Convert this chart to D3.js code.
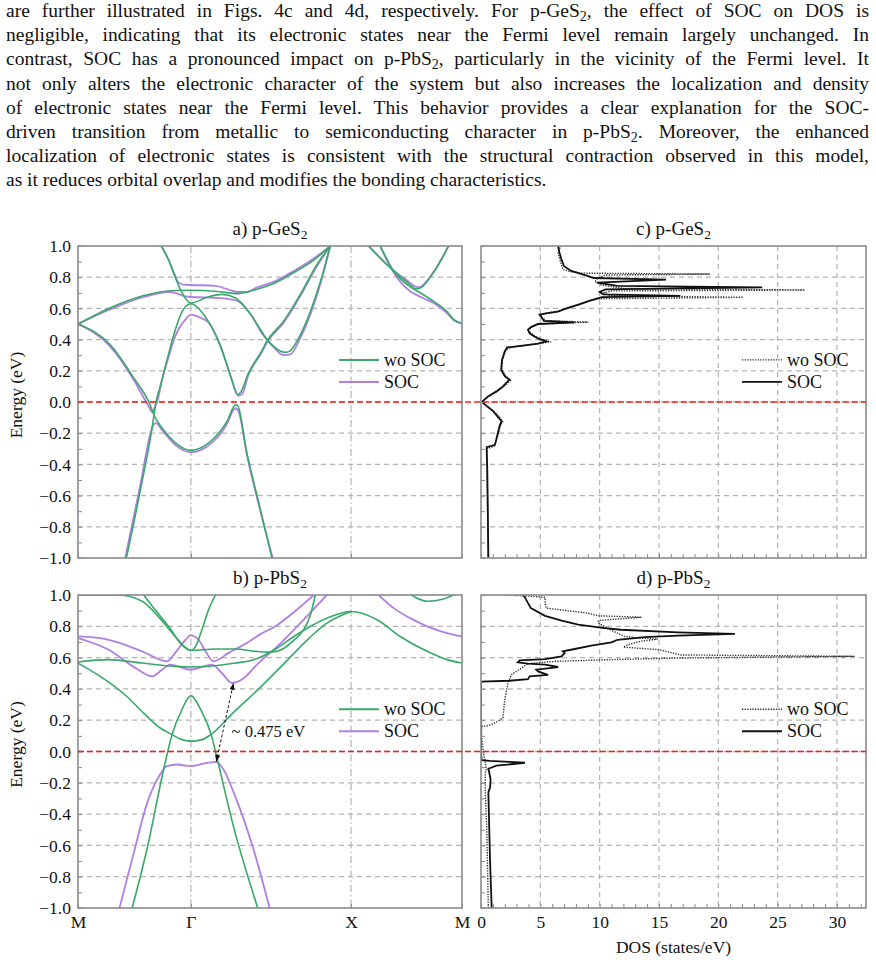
<!DOCTYPE html>
<html>
<head>
<meta charset="utf-8">
<script src="https://cdn.jsdelivr.net/npm/d3@7"></script>
<style>
  body { margin: 0; background: #fff; }
  svg text { font-family: "Liberation Serif", "Times New Roman", serif; fill: #111; }
</style>
</head>
<body>
<svg id="fig" width="876" height="962"></svg>
<script>
// ---- text above the figure (_2 marks a subscript) ----
var paragraphLines = [
  "are further illustrated in Figs. 4c and 4d, respectively. For p-GeS_2, the effect of SOC on DOS is",
  "negligible, indicating that its electronic states near the Fermi level remain largely unchanged. In",
  "contrast, SOC has a pronounced impact on p-PbS_2, particularly in the vicinity of the Fermi level. It",
  "not only alters the electronic character of the system but also increases the localization and density",
  "of electronic states near the Fermi level. This behavior provides a clear explanation for the SOC-",
  "driven transition from metallic to semiconducting character in p-PbS_2. Moreover, the enhanced",
  "localization of electronic states is consistent with the structural contraction observed in this model,",
  "as it reduces orbital overlap and modifies the bonding characteristics."
];

// ---- axes ----
var kTicks = [0, 0.294, 0.711, 1];
var kLabels = ["M", "\u0393", "X", "M"];
var energyTicks = [-1.0, -0.8, -0.6, -0.4, -0.2, 0.0, 0.2, 0.4, 0.6, 0.8, 1.0];
var dosTicks = [0, 5, 10, 15, 20, 25, 30];
var dosMax = 32.45;
var legendLabels = ["wo SOC", "SOC"];

// ---- band structures, points are [k along M-G-X-M, energy eV] ----
var geWoBands = [
  [[0,0.50],[0.080,0.60],[0.167,0.68],[0.253,0.715],[0.294,0.716],[0.358,0.71],[0.418,0.695],[0.462,0.72],[0.514,0.765],[0.562,0.83],[0.614,0.91],[0.657,1.0]],
  [[0.217,1.0],[0.236,0.91],[0.253,0.80],[0.271,0.70],[0.294,0.635],[0.340,0.675],[0.375,0.69],[0.410,0.667],[0.444,0.58],[0.479,0.45],[0.492,0.40],[0.518,0.34],[0.540,0.318],[0.553,0.33],[0.579,0.43],[0.605,0.58],[0.631,0.77],[0.657,1.0]],
  [[0.126,-1.0],[0.162,-0.57],[0.197,-0.10],[0.201,-0.03],[0.214,0.10],[0.232,0.27],[0.253,0.46],[0.271,0.58],[0.294,0.63],[0.336,0.53],[0.371,0.36],[0.397,0.17],[0.416,0.045],[0.423,0.06],[0.444,0.185],[0.479,0.33],[0.492,0.39],[0.536,0.52],[0.579,0.69],[0.622,0.88],[0.657,1.0]],
  [[0,0.50],[0.084,0.367],[0.145,0.155],[0.188,-0.02],[0.199,-0.09],[0.219,-0.167],[0.253,-0.26],[0.294,-0.31],[0.336,-0.27],[0.388,-0.124],[0.410,-0.02],[0.414,-0.02],[0.440,-0.33],[0.475,-0.69],[0.505,-1.0]],
  [[0.757,1.0],[0.805,0.88],[0.856,0.77],[0.883,0.725],[0.926,0.83],[0.965,1.0]],
  [[0.787,1.0],[0.822,0.84],[0.870,0.73],[0.891,0.70],[0.926,0.645],[0.961,0.58],[0.978,0.53],[1.0,0.505]]
];
var geSocBands = [
  [[0,0.50],[0.080,0.59],[0.167,0.67],[0.236,0.705],[0.253,0.70],[0.275,0.68],[0.294,0.673],[0.358,0.668],[0.392,0.66],[0.418,0.645],[0.453,0.55],[0.479,0.44],[0.492,0.40],[0.510,0.35],[0.536,0.30],[0.553,0.305],[0.579,0.41],[0.605,0.56],[0.631,0.755],[0.657,1.0]],
  [[0.217,1.0],[0.236,0.91],[0.253,0.81],[0.262,0.765],[0.275,0.752],[0.294,0.75],[0.358,0.745],[0.392,0.72],[0.418,0.705],[0.440,0.705],[0.462,0.73],[0.514,0.775],[0.562,0.84],[0.614,0.92],[0.657,1.0]],
  [[0,0.50],[0.084,0.355],[0.145,0.143],[0.180,-0.01],[0.194,-0.066],[0.199,-0.04],[0.206,0.0],[0.219,0.143],[0.236,0.29],[0.253,0.42],[0.280,0.53],[0.294,0.56],[0.319,0.54],[0.340,0.51],[0.375,0.33],[0.401,0.14],[0.418,0.04],[0.427,0.05],[0.444,0.175],[0.479,0.32],[0.492,0.38],[0.536,0.51],[0.579,0.68],[0.622,0.87],[0.657,1.0]],
  [[0.123,-1.0],[0.160,-0.56],[0.197,-0.145],[0.203,-0.135],[0.219,-0.18],[0.253,-0.275],[0.294,-0.322],[0.336,-0.285],[0.388,-0.14],[0.405,-0.05],[0.410,-0.04],[0.418,-0.06],[0.440,-0.34],[0.475,-0.70],[0.507,-1.0]],
  [[0.757,1.0],[0.805,0.88],[0.856,0.78],[0.887,0.735],[0.926,0.835],[0.965,1.0]],
  [[0.787,1.0],[0.822,0.83],[0.865,0.71],[0.883,0.685],[0.900,0.665],[0.926,0.635],[0.961,0.57],[0.978,0.525],[1.0,0.50]]
];
var pbWoBands = [
  [[0,1.0],[0.106,1.0],[0.167,0.96],[0.210,0.86],[0.253,0.735],[0.280,0.665],[0.294,0.645],[0.358,0.655],[0.410,0.655],[0.462,0.64],[0.492,0.635],[0.518,0.64],[0.562,0.71],[0.588,0.78],[0.605,0.87],[0.618,1.0]],
  [[0.171,1.0],[0.201,0.905],[0.236,0.80],[0.271,0.68],[0.294,0.645],[0.306,0.67],[0.323,0.78],[0.340,0.905],[0.358,1.0]],
  [[0,0.572],[0.080,0.587],[0.167,0.565],[0.253,0.544],[0.294,0.54],[0.358,0.548],[0.410,0.565],[0.462,0.59],[0.518,0.66],[0.562,0.735],[0.648,0.852],[0.711,0.895],[0.779,0.842],[0.839,0.735],[0.909,0.64],[0.961,0.587],[1.0,0.565]],
  [[0,0.565],[0.058,0.48],[0.128,0.35],[0.171,0.245],[0.214,0.15],[0.245,0.108],[0.266,0.08],[0.294,0.066],[0.323,0.076],[0.346,0.108],[0.405,0.25],[0.475,0.41],[0.536,0.56],[0.600,0.72],[0.648,0.82],[0.711,0.895]],
  [[0.141,-1.0],[0.180,-0.62],[0.223,-0.115],[0.245,0.108],[0.271,0.27],[0.294,0.357],[0.319,0.27],[0.349,0.09],[0.358,0.0],[0.405,-0.48],[0.468,-1.0]],
  [[0.868,1.0],[0.909,0.96],[0.952,0.975],[0.978,1.0]]
];
var pbSocBands = [
  [[0,0.735],[0.080,0.714],[0.167,0.64],[0.232,0.576],[0.253,0.63],[0.280,0.714],[0.293,0.742],[0.314,0.714],[0.332,0.64],[0.353,0.576],[0.392,0.63],[0.444,0.70],[0.475,0.75],[0.514,0.80],[0.562,0.89],[0.614,1.0]],
  [[0,0.725],[0.080,0.65],[0.150,0.533],[0.193,0.48],[0.219,0.523],[0.240,0.555],[0.293,0.523],[0.349,0.555],[0.375,0.50],[0.401,0.438],[0.427,0.46],[0.470,0.565],[0.514,0.66],[0.579,0.82],[0.648,1.0]],
  [[0.108,-1.0],[0.145,-0.65],[0.180,-0.33],[0.206,-0.18],[0.232,-0.093],[0.258,-0.083],[0.294,-0.093],[0.336,-0.072],[0.360,-0.066],[0.379,-0.115],[0.405,-0.26],[0.457,-0.625],[0.499,-1.0]],
  [[0.783,1.0],[0.822,0.916],[0.865,0.852],[0.909,0.80],[0.961,0.757],[1.0,0.735]]
];
var gapArrow = [[0.360, -0.066], [0.405, 0.438]];
var gapLabel = "~ 0.475 eV";

// ---- densities of states, points are [energy eV, DOS states/eV] ----
var geDosWo = [[-1.0,0.6],[-0.6,0.54],[-0.44,0.5],[-0.30,0.46],[-0.285,1.1],[-0.23,1.35],[-0.15,1.65],[-0.126,1.83],[-0.1,1.6],[-0.05,0.95],[-0.015,0.3],[0.0,0.05],[0.04,0.7],[0.07,1.4],[0.10,1.95],[0.14,2.5],[0.165,2.1],[0.21,1.75],[0.27,1.8],[0.325,2.05],[0.345,2.3],[0.36,3.2],[0.375,5.0],[0.385,5.9],[0.40,5.1],[0.42,4.6],[0.44,4.2],[0.46,4.0],[0.48,4.3],[0.50,4.9],[0.512,9.05],[0.522,5.5],[0.545,5.0],[0.56,5.0],[0.58,6.3],[0.60,7.3],[0.625,8.3],[0.65,9.2],[0.662,10.0],[0.671,22.1],[0.682,10.8],[0.70,10.4],[0.712,11.0],[0.718,27.3],[0.728,12.0],[0.75,10.2],[0.77,9.6],[0.79,9.8],[0.814,10.5],[0.82,19.3],[0.826,8.5],[0.836,7.5],[0.85,6.9],[0.9,6.7],[0.95,6.5],[1.0,6.7]];
var geDosSoc = [[-1.0,0.62],[-0.6,0.56],[-0.44,0.53],[-0.29,0.48],[-0.275,1.18],[-0.23,1.32],[-0.145,1.6],[-0.124,1.74],[-0.06,1.04],[-0.017,0.34],[0.0,0.06],[0.036,0.6],[0.068,1.3],[0.10,1.85],[0.143,2.4],[0.165,2.0],[0.207,1.7],[0.27,1.77],[0.325,2.0],[0.35,2.2],[0.36,3.4],[0.374,4.8],[0.389,5.5],[0.404,4.9],[0.42,4.5],[0.44,4.1],[0.464,3.96],[0.48,4.2],[0.50,4.8],[0.51,7.9],[0.52,5.3],[0.545,5.1],[0.56,4.94],[0.57,5.6],[0.58,6.5],[0.60,7.2],[0.624,8.2],[0.645,9.0],[0.66,9.6],[0.672,10.2],[0.680,16.8],[0.69,10.3],[0.705,10.0],[0.722,10.5],[0.735,23.7],[0.745,11.5],[0.765,9.8],[0.784,15.6],[0.795,9.5],[0.81,8.9],[0.82,8.5],[0.84,7.6],[0.87,7.0],[0.91,6.8],[0.96,6.6],[1.0,6.5]];
var pbDosWo = [[-1.0,0.62],[-0.476,0.48],[-0.26,0.36],[-0.136,0.36],[-0.115,0.45],[0.013,0.17],[0.10,0.05],[0.16,0.05],[0.165,0.6],[0.183,1.2],[0.215,1.85],[0.33,2.0],[0.438,2.27],[0.49,2.55],[0.533,3.4],[0.561,3.96],[0.576,6.2],[0.587,11.0],[0.597,16.3],[0.608,31.5],[0.617,16.8],[0.65,15.1],[0.667,12.0],[0.68,12.3],[0.705,13.5],[0.718,14.9],[0.728,13.0],[0.735,12.1],[0.778,10.9],[0.82,9.9],[0.837,9.9],[0.858,13.5],[0.867,9.9],[0.884,9.0],[0.916,5.5],[0.95,5.4],[0.985,5.4],[0.995,3.7],[1.0,1.9]];
var pbDosSoc = [[-1.0,0.9],[-0.69,0.76],[-0.26,0.62],[-0.23,0.76],[-0.18,0.81],[-0.136,0.7],[-0.11,0.62],[-0.09,1.3],[-0.08,2.7],[-0.072,3.7],[-0.066,2.4],[-0.06,0.75],[-0.055,0.05],[0.0,0.0],[0.446,0.0],[0.452,2.4],[0.462,3.96],[0.48,4.1],[0.49,5.65],[0.512,4.8],[0.523,4.66],[0.533,5.8],[0.54,6.5],[0.555,5.4],[0.561,3.96],[0.57,3.1],[0.582,3.26],[0.59,5.4],[0.608,6.8],[0.629,7.05],[0.64,6.9],[0.655,7.9],[0.676,9.3],[0.697,11.0],[0.714,11.5],[0.731,13.8],[0.74,16.6],[0.752,21.4],[0.761,16.6],[0.778,11.8],[0.789,10.4],[0.81,8.2],[0.837,6.8],[0.867,5.4],[0.916,4.2],[0.97,3.8],[0.986,3.7],[1.0,3.5]];

// ---- layout and style ----
var bandRange = [78, 462];
var dosRange = [481, 866];
var rowA = [246, 558];
var rowB = [595, 908];
var textLeft = 6, textRight = 869;
var greenCol = "#38a86a";
var purpleCol = "#b07fe4";
var gridCol = "#b4b4b4";
var frameCol = "#8a8a8a";
var serif = "Liberation Serif, Times New Roman, serif";
var fmtE = d3.format(".1f");

var svg = d3.select("#fig");
var defs = svg.append("defs");
defs.append("marker")
    .attr("id", "arrowhead")
    .attr("viewBox", "0 0 8 6")
    .attr("refX", 8).attr("refY", 3)
    .attr("markerWidth", 7).attr("markerHeight", 6)
    .attr("markerUnits", "userSpaceOnUse")
    .attr("orient", "auto-start-reverse")
  .append("path")
    .attr("d", "M0,0 L8,3 L0,6 z")
    .attr("fill", "#111");

// paragraph, justified by stretching the word spaces
paragraphLines.forEach(function(s, i) {
  var t = svg.append("text")
      .attr("x", textLeft)
      .attr("y", 17 + i * 24.2)
      .attr("font-family", serif)
      .attr("font-size", 19.5);
  var parts = s.split("_2");
  parts.forEach(function(p, j) {
    var sp = t.append("tspan").text(p);
    if (j > 0) sp.attr("dy", -4);
    if (j < parts.length - 1) {
      t.append("tspan").attr("font-size", 14).attr("dy", 4).text("2");
    }
  });
  if (i < paragraphLines.length - 1) {
    var natural = t.node().getComputedTextLength();
    var gaps = s.split(" ").length - 1;
    t.attr("word-spacing", (textRight - textLeft - natural) / gaps);
  }
});

var clipId = 0;
function plotArea(xr, yr) {
  clipId += 1;
  var id = "clip" + clipId;
  defs.append("clipPath").attr("id", id)
    .append("rect")
      .attr("x", xr[0]).attr("y", yr[0])
      .attr("width", xr[1] - xr[0]).attr("height", yr[1] - yr[0]);
  return id;
}

function title(cx, y, label, compound) {
  var t = svg.append("text")
      .attr("x", cx).attr("y", y)
      .attr("text-anchor", "middle")
      .attr("font-family", serif)
      .attr("font-size", 19);
  t.append("tspan").text(label + " p-" + compound);
  t.append("tspan").attr("font-size", 13.5).attr("dy", 4).text("2");
}

function energyGrid(g, xr, y) {
  g.selectAll(".hgrid")
    .data(energyTicks.filter(function(d) { return Math.abs(d) < 0.99; }))
    .enter().append("line")
      .attr("x1", xr[0]).attr("x2", xr[1])
      .attr("y1", function(d) { return y(d); })
      .attr("y2", function(d) { return y(d); })
      .attr("stroke", gridCol).attr("stroke-width", 1.3)
      .attr("stroke-dasharray", "5,4");
}

function leftMinorTicks(g, xr, y) {
  var minor = d3.range(-10, 11).map(function(i) { return i / 10; });
  g.append("g")
      .attr("transform", "translate(" + xr[0] + ",0)")
      .call(d3.axisLeft(y).tickValues(minor).tickSize(-4).tickFormat(""))
      .call(function(a) {
        a.select(".domain").remove();
        a.selectAll("line").attr("stroke", frameCol);
      });
}

function frame(xr, yr) {
  svg.append("rect")
      .attr("x", xr[0]).attr("y", yr[0])
      .attr("width", xr[1] - xr[0]).attr("height", yr[1] - yr[0])
      .attr("fill", "none")
      .attr("stroke", frameCol).attr("stroke-width", 1.6);
}

function legend(x0, yTop, styles) {
  styles.forEach(function(s, i) {
    var yy = yTop + i * 22;
    svg.append("line")
        .attr("x1", x0).attr("x2", x0 + 40)
        .attr("y1", yy).attr("y2", yy)
        .attr("stroke", s.color).attr("stroke-width", s.width)
        .attr("stroke-dasharray", s.dash || null);
    svg.append("text")
        .attr("x", x0 + 45).attr("y", yy + 6)
        .attr("font-family", serif)
        .attr("font-size", 18)
        .text(legendLabels[i]);
  });
}

function bandPanel(yr, woBands, socBands, label, compound, showX) {
  var x = d3.scaleLinear().domain([0, 1]).range(bandRange);
  var y = d3.scaleLinear().domain([-1, 1]).range([yr[1], yr[0]]);
  var g = svg.append("g");

  energyGrid(g, bandRange, y);
  g.selectAll(".vgrid")
    .data(kTicks.slice(1, 3))
    .enter().append("line")
      .attr("x1", function(d) { return x(d); })
      .attr("x2", function(d) { return x(d); })
      .attr("y1", yr[0]).attr("y2", yr[1])
      .attr("stroke", gridCol).attr("stroke-width", 1.2)
      .attr("stroke-dasharray", "7,3,1.5,3");

  var line = d3.line()
      .x(function(d) { return x(d[0]); })
      .y(function(d) { return y(d[1]); })
      .curve(d3.curveMonotoneX);

  var cid = plotArea(bandRange, yr);
  var bands = g.append("g").attr("clip-path", "url(#" + cid + ")");
  bands.selectAll(".soc")
    .data(socBands)
    .enter().append("path")
      .attr("d", line)
      .attr("fill", "none")
      .attr("stroke", purpleCol).attr("stroke-width", 1.8);
  bands.selectAll(".wo")
    .data(woBands)
    .enter().append("path")
      .attr("d", line)
      .attr("fill", "none")
      .attr("stroke", greenCol).attr("stroke-width", 1.6);

  // energy labels
  g.append("g")
      .attr("transform", "translate(" + bandRange[0] + ",0)")
      .call(d3.axisLeft(y).tickValues(energyTicks).tickSize(0).tickPadding(7).tickFormat(fmtE))
      .call(function(a) {
        a.select(".domain").remove();
        a.selectAll("text")
          .attr("font-size", 17.5)
          .attr("font-family", serif)
          .attr("fill", "#111");
      });
  leftMinorTicks(g, bandRange, y);

  // k-point ticks on the bottom edge
  g.append("g")
      .attr("transform", "translate(0," + yr[1] + ")")
      .call(d3.axisBottom(x).tickValues(kTicks).tickSizeInner(-4).tickSizeOuter(0).tickPadding(8)
        .tickFormat(function(d, i) { return showX ? kLabels[i] : ""; }))
      .call(function(a) {
        a.select(".domain").remove();
        a.selectAll("line").attr("stroke", frameCol);
        a.selectAll("text")
          .attr("font-size", 17.5)
          .attr("font-family", serif)
          .attr("fill", "#111");
      });

  frame(bandRange, yr);
  title((bandRange[0] + bandRange[1]) / 2, yr[0] - 11, label, compound);

  svg.append("text")
      .attr("transform", "translate(22," + ((yr[0] + yr[1]) / 2 - 7) + ") rotate(-90)")
      .attr("text-anchor", "middle")
      .attr("font-family", serif)
      .attr("font-size", 17.5)
      .text("Energy (eV)");

  legend(339, y(0.27), [
    { color: greenCol, width: 2 },
    { color: purpleCol, width: 2 }
  ]);
  return { x: x, y: y };
}

function dosPanel(yr, wo, soc, label, compound, showX) {
  var x = d3.scaleLinear().domain([0, dosMax]).range(dosRange);
  var y = d3.scaleLinear().domain([-1, 1]).range([yr[1], yr[0]]);
  var g = svg.append("g");

  energyGrid(g, dosRange, y);
  g.selectAll(".vgrid")
    .data(dosTicks.slice(1))
    .enter().append("line")
      .attr("x1", function(d) { return x(d); })
      .attr("x2", function(d) { return x(d); })
      .attr("y1", yr[0]).attr("y2", yr[1])
      .attr("stroke", gridCol).attr("stroke-width", 1.2)
      .attr("stroke-dasharray", "5,4");

  var line = d3.line()
      .x(function(d) { return x(d[1]); })
      .y(function(d) { return y(d[0]); });

  var cid = plotArea(dosRange, yr);
  var curves = g.append("g").attr("clip-path", "url(#" + cid + ")");
  curves.append("path")
      .datum(wo)
      .attr("d", line)
      .attr("fill", "none")
      .attr("stroke", "#333").attr("stroke-width", 1.4)
      .attr("stroke-dasharray", "1.3,1.3");
  curves.append("path")
      .datum(soc)
      .attr("d", line)
      .attr("fill", "none")
      .attr("stroke", "#111").attr("stroke-width", 1.8);

  leftMinorTicks(g, dosRange, y);
  g.append("g")
      .attr("transform", "translate(0," + yr[1] + ")")
      .call(d3.axisBottom(x).tickValues(d3.range(0, 33)).tickSizeInner(-4).tickSizeOuter(0).tickFormat(""))
      .call(function(a) {
        a.select(".domain").remove();
        a.selectAll("line").attr("stroke", frameCol);
      });
  if (showX) {
    g.append("g")
        .attr("transform", "translate(0," + yr[1] + ")")
        .call(d3.axisBottom(x).tickValues(dosTicks).tickSize(0).tickPadding(8).tickFormat(d3.format("d")))
        .call(function(a) {
          a.select(".domain").remove();
          a.selectAll("text")
            .attr("font-size", 17.5)
            .attr("font-family", serif)
            .attr("fill", "#111");
        });
    svg.append("text")
        .attr("x", (dosRange[0] + dosRange[1]) / 2).attr("y", yr[1] + 45)
        .attr("text-anchor", "middle")
        .attr("font-family", serif)
        .attr("font-size", 17.5)
        .text("DOS (states/eV)");
  }

  frame(dosRange, yr);
  title((dosRange[0] + dosRange[1]) / 2, yr[0] - 11, label, compound);

  legend(742, y(0.27), [
    { color: "#333", width: 1.4, dash: "1.3,1.3" },
    { color: "#111", width: 1.8 }
  ]);
  return { x: x, y: y };
}

var pa = bandPanel(rowA, geWoBands, geSocBands, "a)", "GeS", false);
var pb = bandPanel(rowB, pbWoBands, pbSocBands, "b)", "PbS", true);
dosPanel(rowA, geDosWo, geDosSoc, "c)", "GeS", false);
dosPanel(rowB, pbDosWo, pbDosSoc, "d)", "PbS", true);

// Fermi level across both panels of each row
[pa, pb].forEach(function(p) {
  svg.append("line")
      .attr("x1", bandRange[0]).attr("x2", dosRange[1])
      .attr("y1", p.y(0)).attr("y2", p.y(0))
      .attr("stroke", "#ff1a1a").attr("stroke-width", 1.7)
      .attr("stroke-dasharray", "6,3");
});

// gap annotation in panel b
svg.append("line")
    .attr("x1", pb.x(gapArrow[0][0])).attr("y1", pb.y(gapArrow[0][1]))
    .attr("x2", pb.x(gapArrow[1][0])).attr("y2", pb.y(gapArrow[1][1]))
    .attr("stroke", "#111").attr("stroke-width", 1)
    .attr("stroke-dasharray", "3,2")
    .attr("marker-start", "url(#arrowhead)")
    .attr("marker-end", "url(#arrowhead)");
svg.append("text")
    .attr("x", pb.x(0.40)).attr("y", pb.y(0.09))
    .attr("font-family", serif)
    .attr("font-size", 16.5)
    .text(gapLabel);
</script>
</body>
</html>
